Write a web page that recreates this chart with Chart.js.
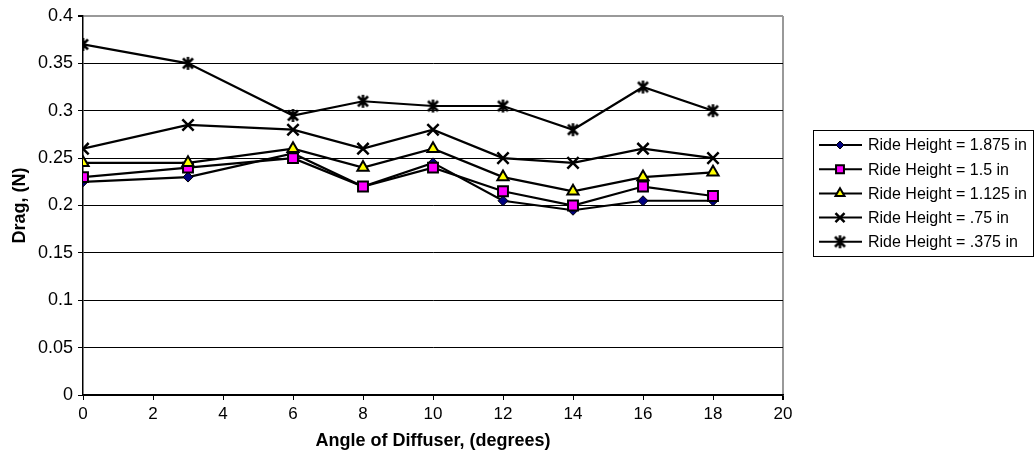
<!DOCTYPE html>
<html>
<head>
<meta charset="utf-8">
<script src="https://cdn.jsdelivr.net/npm/chart.js@4/dist/chart.umd.min.js"></script>
<style>
  html, body { margin: 0; padding: 0; background: #fff; }
  #wrap { width: 1034px; height: 465px; }
</style>
</head>
<body>
<div id="wrap"><canvas id="c" width="1034" height="465"></canvas></div>
<script>
// Diffuser angle (degrees)
const angles = [0, 3, 6, 8, 10, 12, 14, 16, 18];

// Drag (N) for each ride height
const drag1875 = [0.225, 0.23, 0.255, 0.22, 0.245, 0.205, 0.195, 0.205, 0.205];
const drag15   = [0.23, 0.24, 0.25, 0.22, 0.24, 0.215, 0.20, 0.22, 0.21];
const drag1125 = [0.245, 0.245, 0.26, 0.24, 0.26, 0.23, 0.215, 0.23, 0.235];
const drag075  = [0.26, 0.285, 0.28, 0.26, 0.28, 0.25, 0.245, 0.26, 0.25];
const drag0375 = [0.37, 0.35, 0.295, 0.31, 0.305, 0.305, 0.28, 0.325, 0.30];

const seriesLabels = [
  'Ride Height = 1.875 in',
  'Ride Height = 1.5 in',
  'Ride Height = 1.125 in',
  'Ride Height = .75 in',
  'Ride Height = .375 in'
];

const FONT = "'Liberation Sans', Arial, sans-serif";

// Asterisk marker: an X with a vertical stroke
function makeAsterisk(size) {
  const cv = document.createElement('canvas');
  cv.width = size; cv.height = size;
  const g = cv.getContext('2d');
  g.strokeStyle = '#000';
  g.lineWidth = 2.5;
  g.lineCap = 'butt';
  const p = 2.5, q = size - 2.5, m = size / 2;
  g.beginPath();
  g.moveTo(p, p); g.lineTo(q, q);
  g.moveTo(q, p); g.lineTo(p, q);
  g.moveTo(m, 1); g.lineTo(m, size - 1);
  g.stroke();
  return cv;
}
const asterisk = makeAsterisk(15);

function pts(vals) { return angles.map((a, i) => ({ x: a, y: vals[i] })); }

const styles = [
  { pointStyle: 'rectRot', radius: 5, bg: '#000080', bw: 1 },
  { pointStyle: 'rect', radius: 7, bg: '#FF00FF', bw: 2 },
  { pointStyle: 'triangle', radius: 6.5, bg: '#FFFF00', bw: 2 },
  { pointStyle: 'crossRot', radius: 8, bg: '#000', bw: 2.5 },
  { pointStyle: asterisk, radius: 7, bg: '#000', bw: 2 }
];
const series = [drag1875, drag15, drag1125, drag075, drag0375];

const datasets = series.map((vals, i) => ({
  label: seriesLabels[i],
  data: pts(vals),
  borderColor: '#000',
  borderWidth: 2.2,
  backgroundColor: styles[i].bg,
  pointStyle: styles[i].pointStyle,
  pointRadius: styles[i].radius,
  pointHoverRadius: styles[i].radius,
  pointBorderColor: '#000',
  pointBackgroundColor: styles[i].bg,
  pointBorderWidth: styles[i].bw,
  tension: 0,
  fill: false,
  order: 5 - i
}));

// Boxed legend on the right, each entry with a line sample and marker
const sideLegend = {
  id: 'sideLegend',
  afterDraw(chart) {
    const ctx = chart.ctx;
    const bx = 813, by = 130, bw = 220, bh = 126;
    ctx.save();
    ctx.strokeStyle = '#000';
    ctx.lineWidth = 1;
    ctx.strokeRect(bx + 0.5, by + 0.5, bw, bh);
    ctx.font = '16px ' + FONT;
    ctx.textBaseline = 'middle';
    chart.data.datasets.forEach((ds, i) => {
      const y = 145 + i * 24.2;
      ctx.strokeStyle = '#000';
      ctx.lineWidth = 2;
      ctx.beginPath();
      ctx.moveTo(819, y); ctx.lineTo(862, y);
      ctx.stroke();
      ctx.fillStyle = ds.pointBackgroundColor;
      ctx.strokeStyle = '#000';
      ctx.lineWidth = ds.pointBorderWidth;
      const r = typeof ds.pointStyle === 'string' ? ds.pointRadius * 0.8 : ds.pointRadius;
      Chart.helpers.drawPoint(ctx, {
        pointStyle: ds.pointStyle,
        radius: r,
        borderWidth: ds.pointBorderWidth,
        rotation: 0
      }, 840, y);
      ctx.fillStyle = '#000';
      ctx.fillText(ds.label, 868, y + 1);
    });
    ctx.restore();
  }
};

new Chart(document.getElementById('c'), {
  type: 'line',
  data: { datasets },
  plugins: [sideLegend],
  options: {
    responsive: false,
    animation: false,
    events: [],
    layout: { padding: { top: 16, right: 251, left: 0, bottom: 0 } },
    plugins: {
      legend: { display: false },
      tooltip: { enabled: false }
    },
    scales: {
      x: {
        type: 'linear',
        min: 0, max: 20,
        ticks: {
          stepSize: 2,
          color: '#000',
          padding: 4,
          font: { family: FONT, size: 17 },
          maxRotation: 0
        },
        grid: {
          drawOnChartArea: true,
          color: c => (c.tick && c.tick.value === 20) ? '#999' : 'rgba(0,0,0,0)',
          lineWidth: c => (c.tick && c.tick.value === 20) ? 2 : 1,
          tickColor: '#000',
          tickLength: 5
        },
        border: { display: true, color: '#000', width: 1.5 },
        title: {
          display: true,
          text: 'Angle of Diffuser, (degrees)',
          color: '#000',
          font: { family: FONT, size: 18, weight: 'bold' },
          padding: { top: 0, bottom: 13 }
        },
        afterFit(s) { s.height = 70; }
      },
      y: {
        min: 0, max: 0.4,
        ticks: {
          stepSize: 0.05,
          color: '#000',
          padding: 5,
          font: { family: FONT, size: 18 },
          callback: v => String(Math.round(v * 100) / 100)
        },
        grid: {
          color: c => (c.tick && Math.abs(c.tick.value - 0.4) < 1e-9) ? '#999' : '#000',
          lineWidth: c => (c.tick && Math.abs(c.tick.value - 0.4) < 1e-9) ? 2 : 1,
          tickColor: '#000',
          tickLength: 5
        },
        border: { display: true, color: '#000', width: 1.5 },
        title: {
          display: true,
          text: 'Drag, (N)',
          color: '#000',
          font: { family: FONT, size: 18, weight: 'bold' },
          padding: { top: 9, bottom: 0 }
        },
        afterFit(s) { s.width = 83; }
      }
    }
  }
});
</script>
</body>
</html>
